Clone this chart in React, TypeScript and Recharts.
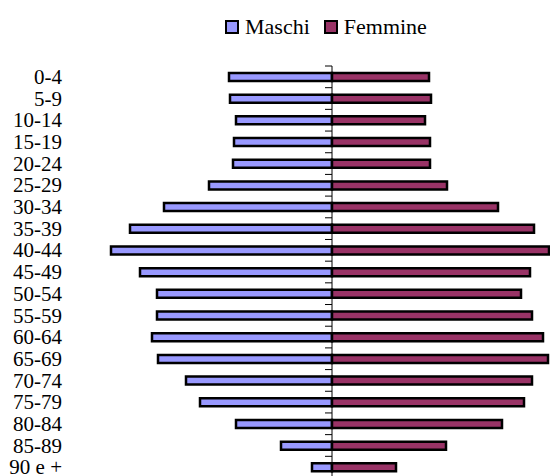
import React from 'react';
import { BarChart, Bar, XAxis, YAxis, Legend, ReferenceLine } from 'recharts';

// age classes, top to bottom
const AGE_GROUPS = [
  '0-4', '5-9', '10-14', '15-19', '20-24', '25-29', '30-34', '35-39', '40-44', '45-49',
  '50-54', '55-59', '60-64', '65-69', '70-74', '75-79', '80-84', '85-89', '90 e +',
];
const MASCHI = [103, 102, 96, 98, 99, 123, 168, 202, 221, 192, 175, 175, 180, 174, 146, 132, 96, 51, 20];
const FEMMINE = [97, 99, 93, 98, 98, 115, 166, 202, 217, 198, 189, 200, 211, 216, 200, 192, 170, 114, 64];
const SERIES = ['Maschi', 'Femmine'];
const X_DOMAIN: [number, number] = [-232, 232];

const COLORS = ['#9999FF', '#993366'];
const FONT = '"Liberation Serif", serif';

const CHART_W = 600;
const CHART_H = 480;
const MARGIN = { top: 66, right: 36, bottom: 2, left: 0 };
const Y_AXIS_W = 100;
const PLOT_W = CHART_W - MARGIN.left - MARGIN.right - Y_AXIS_W;
const PLOT_H = CHART_H - MARGIN.top - MARGIN.bottom;
const CENTER_X = MARGIN.left + Y_AXIS_W + PLOT_W / 2;
const BAND = PLOT_H / AGE_GROUPS.length;
const LABEL_X = 62;

const data = AGE_GROUPS.map((age, i) => ({
  age,
  maschi: -MASCHI[i],
  femmine: FEMMINE[i],
}));

// age label on the left + small tick mark on the centre axis at band edges
const AgeTick = (props: any) => {
  const { y, payload, index } = props;
  const last = index === AGE_GROUPS.length - 1;
  return (
    <g>
      <text
        x={LABEL_X}
        y={y}
        dy="0.34em"
        textAnchor="end"
        style={{ fontFamily: FONT, fontSize: 21 }}
        fill="#000"
      >
        {payload.value}
      </text>
      <line x1={CENTER_X - 7} x2={CENTER_X} y1={y - BAND / 2} y2={y - BAND / 2} stroke="#000" strokeWidth={1} />
      {last && (
        <line x1={CENTER_X - 7} x2={CENTER_X} y1={y + BAND / 2} y2={y + BAND / 2} stroke="#000" strokeWidth={1} />
      )}
    </g>
  );
};

const renderLegend = () => (
  <div
    style={{
      display: 'flex',
      alignItems: 'center',
      fontFamily: FONT,
      fontSize: 22,
      lineHeight: '24px',
      color: '#000',
      whiteSpace: 'nowrap',
    }}
  >
    {SERIES.map((name, i) => (
      <span key={name} style={{ display: 'flex', alignItems: 'center', marginRight: i === 0 ? 14 : 0 }}>
        <span
          style={{
            display: 'inline-block',
            width: 10,
            height: 10,
            border: '2.5px solid #000',
            background: COLORS[i],
            marginRight: 6,
          }}
        />
        {name}
      </span>
    ))}
  </div>
);

const App: React.FC = () => {
  return (
    <div style={{ position: 'fixed', left: 0, top: 0, width: 550, height: 476, overflow: 'hidden', background: '#fff' }}>
      <BarChart
        width={CHART_W}
        height={CHART_H}
        data={data}
        layout="vertical"
        stackOffset="sign"
        margin={MARGIN}
        barSize={8}
      >
        <XAxis type="number" domain={X_DOMAIN} hide />
        <YAxis
          type="category"
          dataKey="age"
          width={Y_AXIS_W}
          axisLine={false}
          tickLine={false}
          interval={0}
          tick={<AgeTick />}
        />
        <Legend
          verticalAlign="middle"
          content={renderLegend}
          wrapperStyle={{ left: 225, top: 15, width: 'auto' }}
        />
        <Bar dataKey="maschi" name="Maschi" stackId="p" fill={COLORS[0]} stroke="#000" strokeWidth={2.5} isAnimationActive={false} />
        <Bar dataKey="femmine" name="Femmine" stackId="p" fill={COLORS[1]} stroke="#000" strokeWidth={2.5} isAnimationActive={false} />
        <ReferenceLine x={0} stroke="#000" strokeWidth={1} />
      </BarChart>
    </div>
  );
};

export default App;
